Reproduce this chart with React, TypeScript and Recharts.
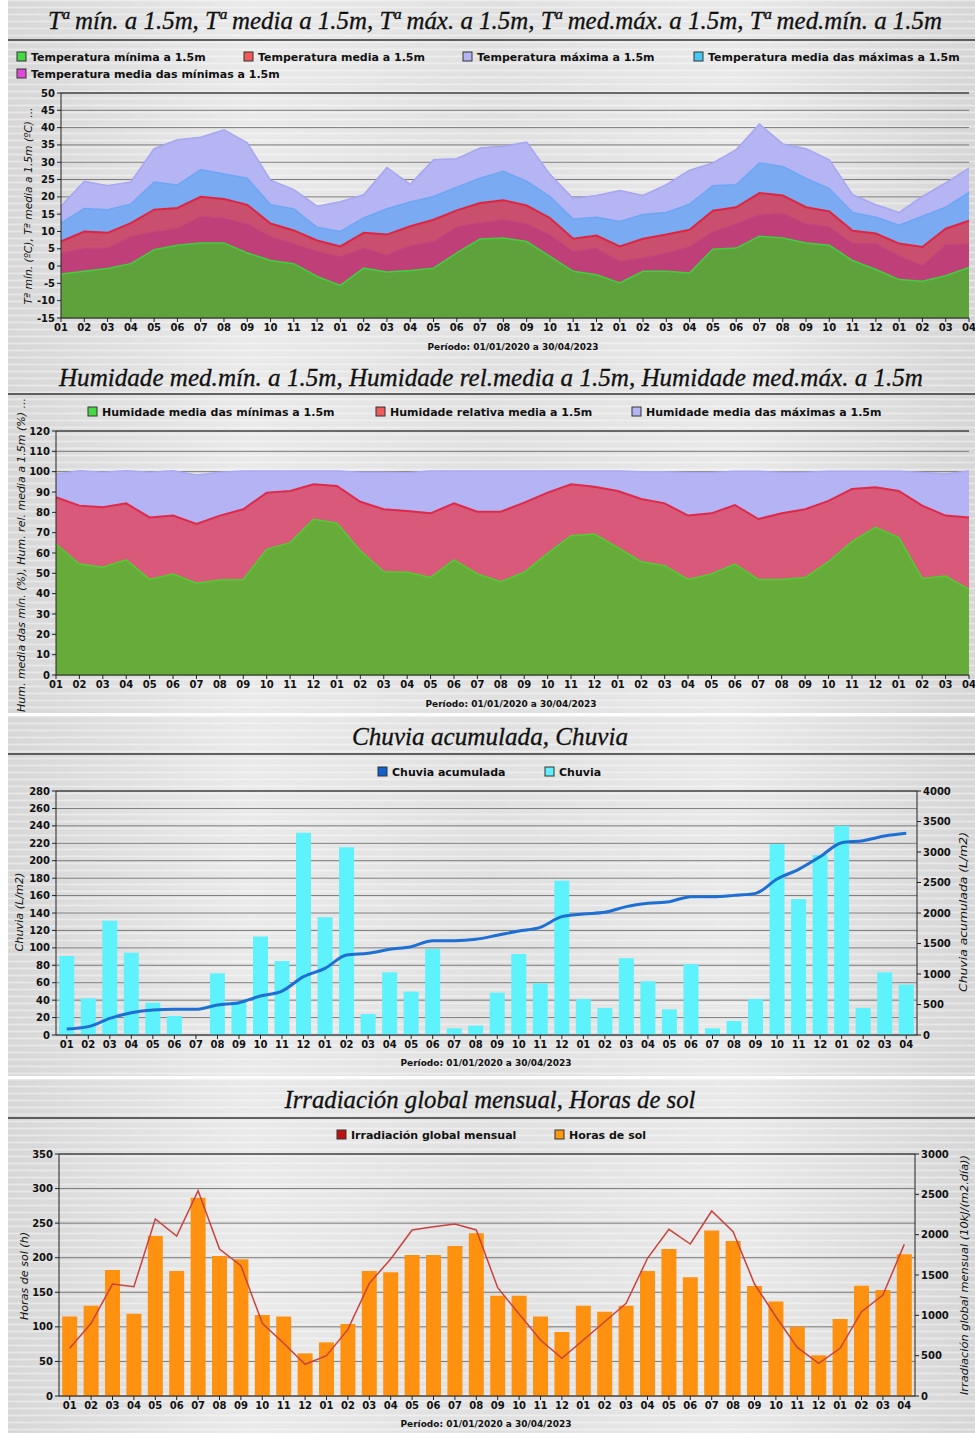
import React from "react"
import {
  AreaChart, Area, ComposedChart, Bar, Line, XAxis, YAxis, CartesianGrid, ReferenceLine,
} from "recharts"

// months 01/2020 .. 04/2023
const months = [
  "01", "02", "03", "04", "05", "06", "07", "08", "09", "10", "11", "12",
  "01", "02", "03", "04", "05", "06", "07", "08", "09", "10", "11", "12",
  "01", "02", "03", "04", "05", "06", "07", "08", "09", "10", "11", "12",
  "01", "02", "03", "04",
]

// temperatures (ºC)
const tMin = [-2.3, -1.5, -0.7, 0.7, 4.7, 6.0, 6.7, 6.7, 3.8, 1.6, 0.7, -3.0, -5.6, -0.6, -1.7, -1.3, -0.6, 3.8, 7.8, 8.1, 7.1, 2.8, -1.5, -2.5, -4.9, -1.5, -1.5, -2.0, 4.9, 5.2, 8.6, 8.1, 6.7, 6.0, 1.6, -1.0, -3.9, -4.4, -2.8, -0.4]
const tMedMin = [3.8, 5.2, 5.2, 8.6, 10.0, 11.0, 14.4, 13.9, 12.3, 8.6, 6.5, 4.3, 2.8, 5.2, 3.3, 6.0, 7.1, 11.4, 12.6, 13.4, 12.3, 9.1, 4.3, 5.2, 1.4, 2.4, 3.8, 5.7, 10.0, 12.3, 14.9, 15.3, 12.2, 11.4, 6.6, 6.5, 3.0, 0.2, 6.2, 6.4]
const tMed = [7.1, 10.0, 9.6, 12.4, 16.3, 16.8, 20.0, 19.4, 17.7, 12.3, 10.3, 7.4, 5.7, 9.6, 9.1, 11.5, 13.4, 16.1, 18.2, 19.0, 17.5, 13.9, 7.9, 8.8, 5.7, 7.9, 9.1, 10.5, 16.0, 17.0, 21.1, 20.4, 17.0, 15.8, 10.2, 9.4, 6.5, 5.5, 10.8, 13.1]
const tMedMax = [12.4, 16.6, 16.3, 17.9, 24.3, 23.4, 27.9, 26.6, 25.4, 17.7, 16.5, 11.2, 10.0, 13.9, 16.6, 18.5, 20.1, 22.8, 25.4, 27.4, 24.5, 20.1, 13.6, 14.1, 12.9, 14.9, 15.5, 17.9, 23.2, 23.5, 29.8, 28.8, 25.3, 22.4, 15.5, 14.1, 11.8, 14.4, 17.0, 21.3]
const tMax = [17.3, 24.5, 23.2, 24.3, 33.9, 36.5, 37.2, 39.4, 35.6, 24.8, 22.1, 17.3, 18.6, 20.6, 28.5, 23.6, 30.7, 31.0, 34.1, 34.6, 35.8, 26.5, 19.5, 20.4, 21.8, 20.4, 23.5, 27.7, 29.8, 33.6, 41.0, 35.3, 33.9, 30.7, 20.6, 17.7, 15.5, 20.1, 24.0, 28.3]
const tempTicks = [-15, -10, -5, 0, 5, 10, 15, 20, 25, 30, 35, 40, 45, 50]

// humidity (%)
const hMin = [64.4, 54.6, 53.0, 56.6, 47.0, 49.7, 45.1, 46.7, 47.0, 61.8, 65.1, 76.6, 74.6, 61.1, 50.8, 50.5, 48.0, 56.6, 49.7, 45.9, 50.5, 59.8, 68.5, 69.3, 62.6, 55.7, 53.8, 47.0, 49.7, 54.6, 47.0, 47.0, 47.9, 55.7, 65.6, 72.6, 67.7, 47.5, 48.7, 42.1]
const hMed = [87.4, 83.3, 82.5, 84.4, 77.5, 78.4, 74.3, 78.4, 81.5, 89.7, 90.5, 93.8, 93.0, 85.2, 81.5, 80.7, 79.5, 84.4, 80.3, 80.3, 84.8, 89.7, 93.8, 92.6, 90.5, 86.6, 84.4, 78.4, 79.5, 83.6, 76.7, 79.5, 81.5, 85.6, 91.5, 92.3, 90.5, 83.3, 78.4, 77.4]
const hMax = [98.7, 100.5, 99.7, 100.5, 99.7, 100.5, 98.4, 99.7, 100.3, 100.3, 100.3, 100.3, 100.3, 99.7, 99.7, 99.5, 100.3, 100.3, 100.3, 100.3, 100.3, 100.3, 100.3, 100.3, 100.3, 99.9, 99.9, 99.6, 99.6, 100.2, 100.2, 99.7, 99.7, 100.2, 100.2, 100.2, 100.2, 99.6, 98.9, 100.3]
const humTicks = [0, 10, 20, 30, 40, 50, 60, 70, 80, 90, 100, 110, 120]

// rain (L/m2)
const rain = [90.7, 42.1, 131.2, 94.5, 37.1, 21.8, 0, 70.8, 38.3, 112.9, 84.9, 232.2, 135, 215.4, 24.1, 71.9, 49.7, 98.7, 7.7, 10.7, 48.6, 93, 59.3, 177.1, 41.3, 31.0, 88, 61.6, 29.5, 81.1, 7.7, 16.1, 41.3, 219.2, 156.1, 206.6, 240.2, 31.0, 71.9, 57.8]
const rainAcc = [98, 137, 273, 366, 410, 421, 421, 492, 530, 639, 721, 956, 1093, 1311, 1339, 1404, 1448, 1546, 1546, 1568, 1635, 1705, 1765, 1940, 1983, 2011, 2104, 2158, 2186, 2268, 2268, 2289, 2322, 2557, 2716, 2923, 3153, 3185, 3262, 3306]
const rainTicks = [0, 20, 40, 60, 80, 100, 120, 140, 160, 180, 200, 220, 240, 260, 280]
const rainAccTicks = [0, 500, 1000, 1500, 2000, 2500, 3000, 3500, 4000]

// sun
const sunHours = [114.8, 130.7, 182.3, 119.1, 231.4, 180.8, 286.9, 202.5, 197.7, 117.2, 114.8, 61.7, 77.6, 104.1, 180.8, 178.9, 203.9, 203.9, 217, 235.3, 145.1, 145.1, 114.8, 92.6, 130.7, 122, 130.7, 180.8, 212.6, 171.6, 239.2, 224.2, 159.1, 136.5, 100.3, 58.8, 111.4, 159.6, 153.3, 204.9]
const irradiation = [591, 901, 1388, 1355, 2194, 1983, 2545, 1822, 1616, 901, 653, 393, 500, 826, 1397, 1698, 2058, 2099, 2132, 2058, 1343, 1016, 694, 467, 694, 921, 1149, 1707, 2066, 1884, 2293, 2037, 1388, 983, 603, 405, 591, 1045, 1252, 1880]
const sunTicks = [0, 50, 100, 150, 200, 250, 300, 350]
const irrTicks = [0, 500, 1000, 1500, 2000, 2500, 3000]

const periodo = "Período: 01/01/2020 a 30/04/2023"

const tempData = months.map((m, i) => ({ i, tMin: tMin[i], tMedMin: tMedMin[i], tMed: tMed[i], tMedMax: tMedMax[i], tMax: tMax[i] }))
const humData = months.map((m, i) => ({ i, hMin: hMin[i], hMed: hMed[i], hMax: hMax[i] }))
const rainData = months.map((m, i) => ({ i, rain: rain[i], rainAcc: rainAcc[i] }))
const sunData = months.map((m, i) => ({ i, sun: sunHours[i], irr: irradiation[i] }))

const tick = { fontSize: 10, fontWeight: 700, fill: "#111", fontFamily: "DejaVu Sans" }
const axisStroke = { stroke: "#222" }
const monthFmt = (i: number) => months[i]

// brushed metal look
const metal =
  "repeating-linear-gradient(180deg, rgba(255,255,255,0.35) 0px, rgba(255,255,255,0.35) 1px, rgba(0,0,0,0.025) 2px, rgba(255,255,255,0) 3px, rgba(0,0,0,0.02) 5px, rgba(255,255,255,0.2) 7px), " +
  "linear-gradient(90deg, #d9d9d9 0%, #ececec 25%, #e2e2e2 50%, #ebebeb 75%, #d8d8d8 100%)"

function LegendItem({ x, y, color, label }: { x: number; y: number; color: string; label: string }) {
  return (
    <g>
      <rect x={x} y={y - 5} width={9} height={9} fill={color} stroke="#333" strokeWidth={1} />
      <text x={x + 14} y={y + 4} fontFamily="DejaVu Sans" fontWeight={700} fontSize={11} fill="#111">{label}</text>
    </g>
  )
}

function Title({ cx, y, w, text }: { cx: number; y: number; w: number; text: string }) {
  return (
    <text x={cx} y={y} textAnchor="middle" textLength={w} lengthAdjust="spacingAndGlyphs"
      fontFamily="Liberation Serif" fontStyle="italic" fontSize={25} fill="#111" stroke="#111" strokeWidth={0.3}>{text}</text>
  )
}

function Caption({ cx, y }: { cx: number; y: number }) {
  return (
    <text x={cx} y={y} textAnchor="middle" textLength={171} lengthAdjust="spacingAndGlyphs"
      fontFamily="DejaVu Sans" fontWeight={700} fontSize={9} fill="#111">{periodo}</text>
  )
}

function VLabel({ x, cy, len, text }: { x: number; cy: number; len: number; text: string }) {
  return (
    <text x={x} y={cy} transform={`rotate(-90 ${x} ${cy})`} textAnchor="middle" textLength={len}
      lengthAdjust="spacingAndGlyphs" fontFamily="DejaVu Sans" fontStyle="italic" fontSize={11} fill="#111">{text}</text>
  )
}

export default function App() {
  return (
    <div style={{ position: "absolute", left: 0, top: 0, width: 975, height: 1433, background: "#fff", overflow: "hidden" }}>
      <div style={{ position: "absolute", left: 8, top: 0, width: 967, height: 713, background: metal }} />
      <div style={{ position: "absolute", left: 8, top: 716, width: 967, height: 360, background: metal }} />
      <div style={{ position: "absolute", left: 8, top: 1079, width: 967, height: 354, background: metal }} />

      {/* temperature */}
      <div style={{ position: "absolute", left: 0, top: 0 }}>
        <AreaChart width={975} height={352} data={tempData} margin={{ top: 93, right: 6, bottom: 14, left: 21 }}>
          <CartesianGrid vertical={false} stroke="#7a7a7a" />
          <XAxis dataKey="i" tickFormatter={monthFmt} interval={0} tick={tick} axisLine={axisStroke} tickLine={axisStroke} tickSize={4} height={20} />
          <YAxis domain={[-15, 50]} ticks={tempTicks} interval={0} width={40} tick={tick} axisLine={axisStroke} tickLine={axisStroke} tickSize={4} />
          <YAxis yAxisId="r" orientation="right" domain={[-15, 50]} width={0} tick={false} tickLine={false} axisLine={axisStroke} />
          <ReferenceLine y={50} stroke="#222" />
          <Area dataKey="tMax" type="linear" baseValue="dataMin" fill="#b5b5f3" fillOpacity={1} stroke="#a6a6f2" strokeWidth={1.5} isAnimationActive={false} />
          <Area dataKey="tMedMax" type="linear" baseValue="dataMin" fill="#7aaaf2" fillOpacity={1} stroke="#6ea6f4" strokeWidth={1.5} isAnimationActive={false} />
          <Area dataKey="tMed" type="linear" baseValue="dataMin" fill="#c94f6e" fillOpacity={1} stroke="#e0243e" strokeWidth={2} isAnimationActive={false} />
          <Area dataKey="tMedMin" type="linear" baseValue="dataMin" fill="#bf4078" fillOpacity={1} stroke="#c54a7c" strokeWidth={1} isAnimationActive={false} />
          <Area dataKey="tMin" type="linear" baseValue="dataMin" fill="#5fa23b" fillOpacity={1} stroke="#3fd03f" strokeWidth={1.5} isAnimationActive={false} />
        </AreaChart>
      </div>

      {/* humidity */}
      <div style={{ position: "absolute", left: 0, top: 352 }}>
        <AreaChart width={975} height={363} data={humData} margin={{ top: 79, right: 6, bottom: 20, left: 16 }}>
          <CartesianGrid vertical={false} stroke="#7a7a7a" />
          <XAxis dataKey="i" tickFormatter={monthFmt} interval={0} tick={tick} axisLine={axisStroke} tickLine={axisStroke} tickSize={4} height={20} />
          <YAxis domain={[0, 120]} ticks={humTicks} interval={0} width={40} tick={tick} axisLine={axisStroke} tickLine={axisStroke} tickSize={4} allowDataOverflow />
          <YAxis yAxisId="r" orientation="right" domain={[0, 120]} width={0} tick={false} tickLine={false} axisLine={axisStroke} />
          <ReferenceLine y={120} stroke="#222" />
          <Area dataKey="hMax" type="linear" baseValue="dataMin" fill="#b4b4f5" fillOpacity={1} stroke="#a9a9f3" strokeWidth={1.5} isAnimationActive={false} />
          <Area dataKey="hMed" type="linear" baseValue="dataMin" fill="#d8597a" fillOpacity={1} stroke="#e02848" strokeWidth={2} isAnimationActive={false} />
          <Area dataKey="hMin" type="linear" baseValue="dataMin" fill="#67ab3b" fillOpacity={1} stroke="#4fd02f" strokeWidth={1.5} isAnimationActive={false} />
        </AreaChart>
      </div>

      {/* rain */}
      <div style={{ position: "absolute", left: 0, top: 715 }}>
        <ComposedChart width={975} height={362} data={rainData} margin={{ top: 76, right: 13, bottom: 22, left: 16 }} barCategoryGap="15%">
          <CartesianGrid vertical={false} stroke="#7a7a7a" yAxisId="l" />
          <XAxis dataKey="i" tickFormatter={monthFmt} interval={0} tick={tick} axisLine={axisStroke} tickLine={axisStroke} tickSize={4} height={20} />
          <YAxis yAxisId="l" domain={[0, 280]} ticks={rainTicks} interval={0} width={40} tick={tick} axisLine={axisStroke} tickLine={axisStroke} tickSize={4} />
          <YAxis yAxisId="r" orientation="right" domain={[0, 4000]} ticks={rainAccTicks} interval={0} width={45} tick={tick} axisLine={axisStroke} tickLine={axisStroke} tickSize={4} />
          <ReferenceLine yAxisId="l" y={280} stroke="#222" />
          <Bar yAxisId="l" dataKey="rain" fill="#5ef2fd" isAnimationActive={false} />
          <Line yAxisId="r" dataKey="rainAcc" type="monotone" stroke="#1d6fd4" strokeWidth={3} dot={false} isAnimationActive={false} />
        </ComposedChart>
      </div>

      {/* sun */}
      <div style={{ position: "absolute", left: 0, top: 1077 }}>
        <ComposedChart width={975} height={356} data={sunData} margin={{ top: 77, right: 15, bottom: 17, left: 19 }} barCategoryGap="15%">
          <CartesianGrid vertical={false} stroke="#7a7a7a" yAxisId="l" />
          <XAxis dataKey="i" tickFormatter={monthFmt} interval={0} tick={tick} axisLine={axisStroke} tickLine={axisStroke} tickSize={4} height={20} />
          <YAxis yAxisId="l" domain={[0, 350]} ticks={sunTicks} interval={0} width={40} tick={tick} axisLine={axisStroke} tickLine={axisStroke} tickSize={4} />
          <YAxis yAxisId="r" orientation="right" domain={[0, 3000]} ticks={irrTicks} interval={0} width={45} tick={tick} axisLine={axisStroke} tickLine={axisStroke} tickSize={4} />
          <ReferenceLine yAxisId="l" y={350} stroke="#222" />
          <Bar yAxisId="l" dataKey="sun" fill="#ff9110" isAnimationActive={false} />
          <Line yAxisId="r" dataKey="irr" type="linear" stroke="#c9423c" strokeWidth={1.5} dot={false} isAnimationActive={false} />
        </ComposedChart>
      </div>

      {/* titles, legends, captions, axis labels */}
      <svg width={975} height={1433} style={{ position: "absolute", left: 0, top: 0, pointerEvents: "none" }}>
        <Title cx={495} y={29} w={894} text="Tª mín. a 1.5m, Tª media a 1.5m, Tª máx. a 1.5m, Tª med.máx. a 1.5m, Tª  med.mín. a 1.5m" />
        <line x1={8} x2={975} y1={40} y2={40} stroke="#333" strokeWidth={1.5} />
        <LegendItem x={17} y={57} color="#45d845" label="Temperatura mínima a 1.5m" />
        <LegendItem x={244} y={57} color="#f05a5a" label="Temperatura media a 1.5m" />
        <LegendItem x={463} y={57} color="#b4b4f4" label="Temperatura máxima a 1.5m" />
        <LegendItem x={694} y={57} color="#48c8f0" label="Temperatura media das máximas a 1.5m" />
        <LegendItem x={17} y={74} color="#e048d8" label="Temperatura  media das mínimas a 1.5m" />
        <VLabel x={32} cy={206} len={197} text="Tª mín.  (ºC), Tª media a 1.5m (ºC) ..." />
        <Caption cx={513} y={350} />

        <Title cx={491} y={386} w={864} text="Humidade med.mín. a 1.5m, Humidade rel.media a 1.5m, Humidade med.máx. a 1.5m" />
        <line x1={8} x2={975} y1={394} y2={394} stroke="#333" strokeWidth={1.5} />
        <LegendItem x={88} y={412} color="#45d845" label="Humidade media das mínimas a 1.5m" />
        <LegendItem x={376} y={412} color="#f05a5a" label="Humidade relativa media a 1.5m" />
        <LegendItem x={632} y={412} color="#b4b4f4" label="Humidade media das máximas a 1.5m" />
        <VLabel x={25} cy={555} len={314} text="Hum. media das mín.  (%), Hum. rel. media a 1.5m (%) ..." />
        <Caption cx={511} y={707} />

        <Title cx={490} y={745} w={276} text="Chuvia acumulada, Chuvia" />
        <line x1={8} x2={975} y1={754} y2={754} stroke="#333" strokeWidth={1.5} />
        <LegendItem x={378} y={772} color="#1060d0" label="Chuvia acumulada" />
        <LegendItem x={545} y={772} color="#60f0ff" label="Chuvia" />
        <VLabel x={23} cy={912} len={79} text="Chuvia (L/m2)" />
        <VLabel x={967} cy={912} len={160} text="Chuvia acumulada (L/m2)" />
        <Caption cx={486} y={1066} />

        <Title cx={490} y={1108} w={411} text="Irradiación global mensual, Horas de sol" />
        <line x1={8} x2={975} y1={1118} y2={1118} stroke="#333" strokeWidth={1.5} />
        <LegendItem x={337} y={1135} color="#c01010" label="Irradiación global mensual" />
        <LegendItem x={555} y={1135} color="#ff9a10" label="Horas de sol" />
        <VLabel x={28} cy={1276} len={88} text="Horas de sol (h)" />
        <VLabel x={968} cy={1275} len={240} text="Irradiación global mensual (10kJ/(m2.día))" />
        <Caption cx={486} y={1427} />
      </svg>
    </div>
  )
}
